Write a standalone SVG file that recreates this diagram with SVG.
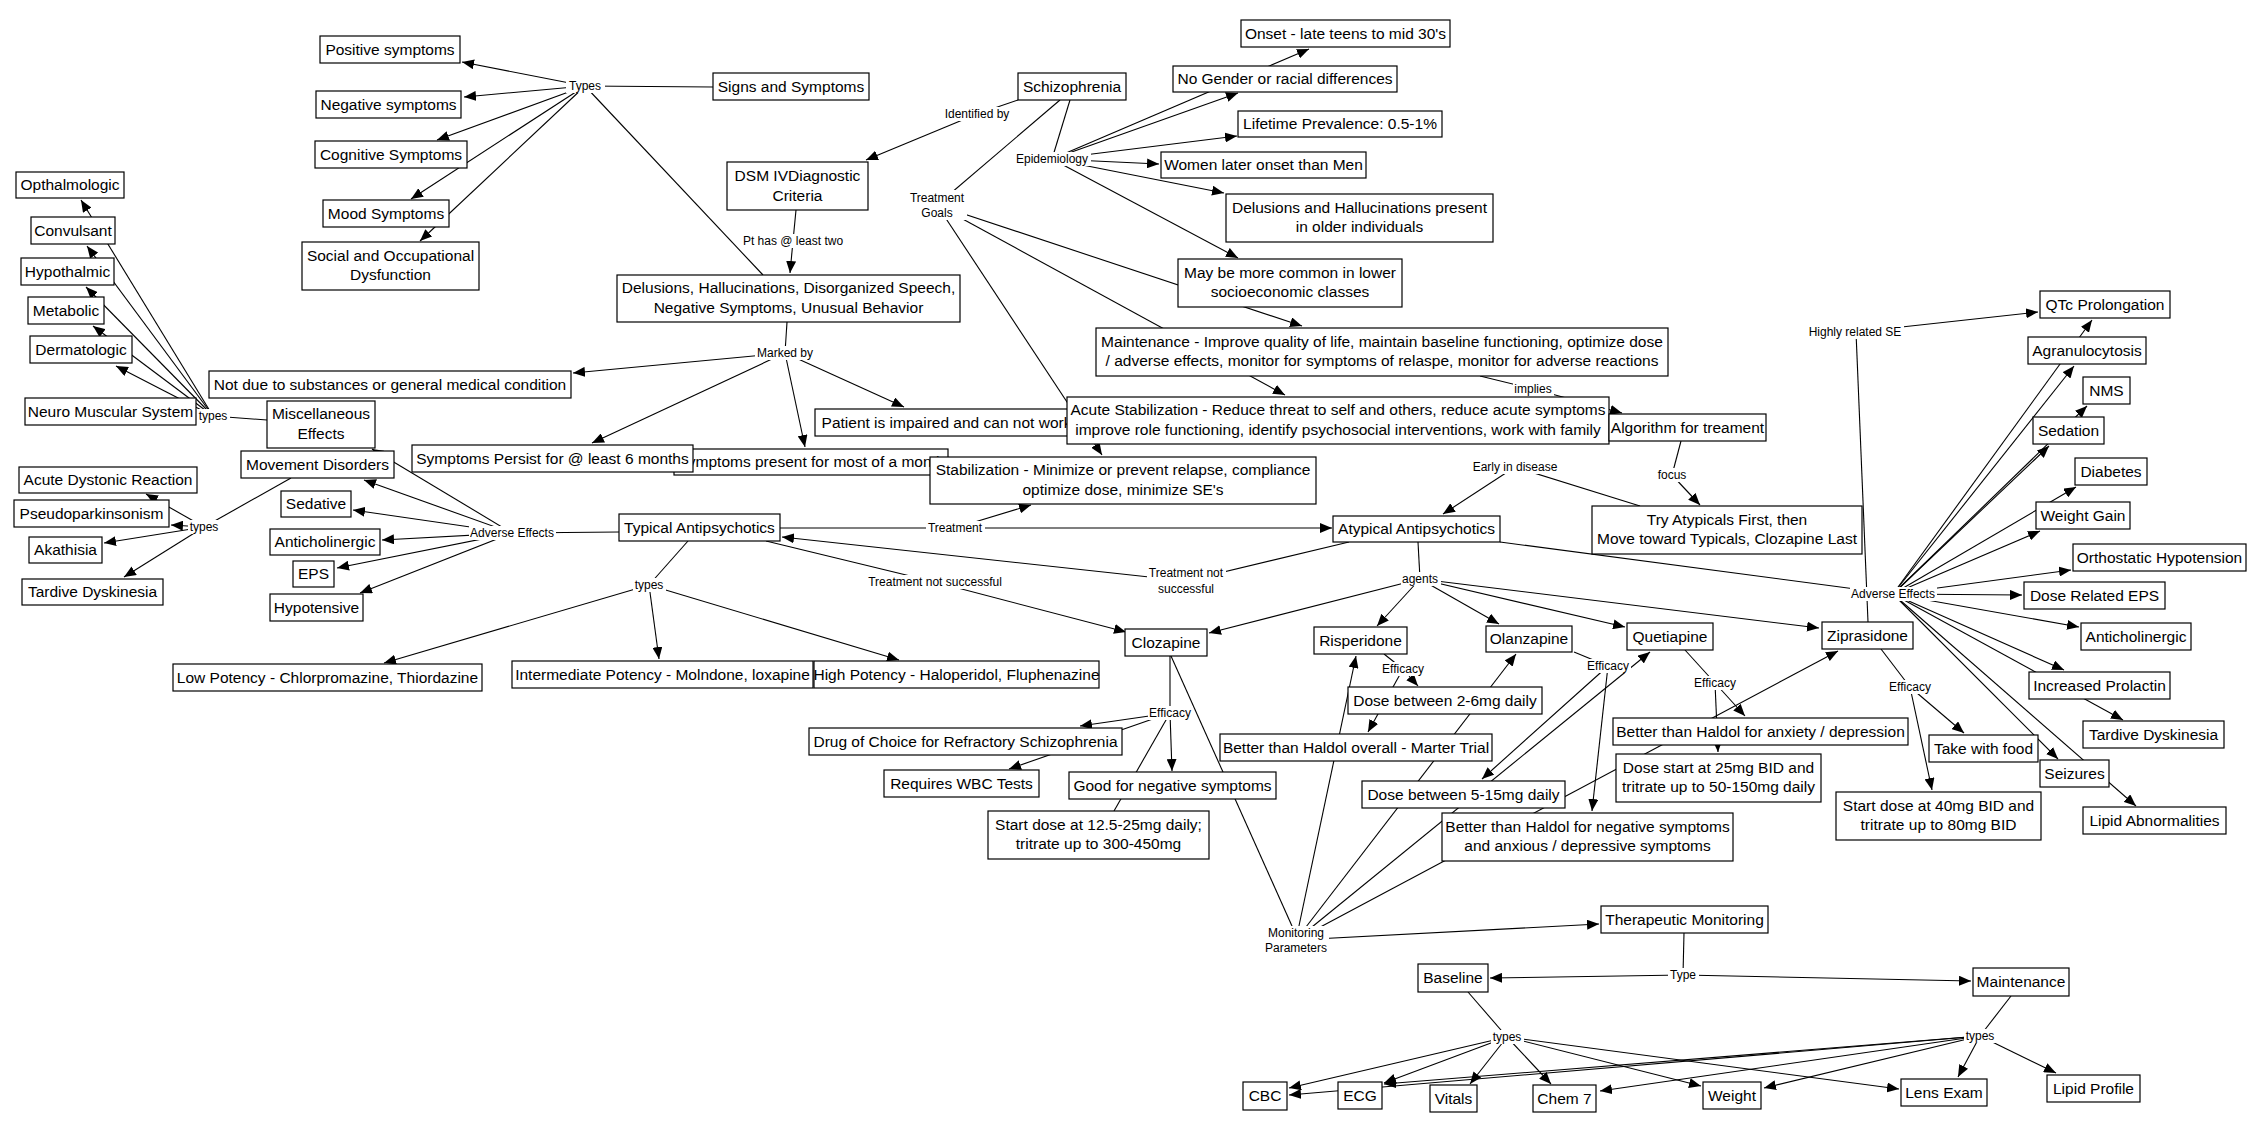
<svg xmlns="http://www.w3.org/2000/svg" width="2259" height="1132" viewBox="0 0 2259 1132">
<style>
.n rect{fill:#fff;stroke:#000;stroke-width:1.2}
.n text{font-family:"Liberation Sans",Arial,sans-serif;font-size:15.5px;text-anchor:middle;fill:#000}
.l rect{fill:#fff;stroke:none}
.l text{font-family:"Liberation Sans",Arial,sans-serif;font-size:12px;text-anchor:middle;fill:#000}
#connectors line{stroke:#000;stroke-width:1.1;fill:none}
#connectors .a{marker-end:url(#ah)}
</style>
<defs>
<marker id="ah" viewBox="0 0 12 10" refX="12" refY="5" markerWidth="12" markerHeight="10" markerUnits="userSpaceOnUse" orient="auto"><path d="M0,0 L12,5 L0,10 z" fill="#000"/></marker>
</defs>
<rect width="2259" height="1132" fill="#fff"/>
<g id="connectors">
<line x1="713" y1="87" x2="585" y2="86"/>
<line x1="585" y1="86" x2="763" y2="275"/>
<line class="a" x1="585" y1="86" x2="462" y2="62"/>
<line class="a" x1="585" y1="86" x2="464" y2="97"/>
<line class="a" x1="585" y1="86" x2="437" y2="140"/>
<line class="a" x1="585" y1="86" x2="411" y2="199"/>
<line class="a" x1="585" y1="86" x2="420" y2="241"/>
<line x1="1018" y1="100" x2="977" y2="114"/>
<line class="a" x1="977" y1="114" x2="866" y2="160"/>
<line x1="796" y1="210" x2="793" y2="241"/>
<line class="a" x1="793" y1="241" x2="790" y2="273"/>
<line x1="787" y1="322" x2="785" y2="353"/>
<line class="a" x1="785" y1="353" x2="573" y2="373"/>
<line class="a" x1="785" y1="353" x2="592" y2="443"/>
<line class="a" x1="785" y1="353" x2="805" y2="447"/>
<line class="a" x1="785" y1="353" x2="904" y2="407"/>
<line x1="1060" y1="100" x2="937" y2="205"/>
<line x1="1070" y1="100" x2="1052" y2="159"/>
<line class="a" x1="1052" y1="159" x2="1309" y2="49"/>
<line class="a" x1="1052" y1="159" x2="1238" y2="93"/>
<line class="a" x1="1052" y1="159" x2="1237" y2="136"/>
<line class="a" x1="1052" y1="159" x2="1159" y2="164"/>
<line class="a" x1="1052" y1="159" x2="1224" y2="193"/>
<line class="a" x1="1052" y1="159" x2="1238" y2="258"/>
<line class="a" x1="937" y1="205" x2="1302" y2="326"/>
<line class="a" x1="937" y1="205" x2="1285" y2="395"/>
<line class="a" x1="937" y1="205" x2="1102" y2="455"/>
<line x1="1480" y1="376" x2="1533" y2="389"/>
<line class="a" x1="1533" y1="389" x2="1622" y2="413"/>
<line x1="1681" y1="441" x2="1672" y2="475"/>
<line class="a" x1="1672" y1="475" x2="1700" y2="505"/>
<line x1="1640" y1="506" x2="1515" y2="467"/>
<line class="a" x1="1515" y1="467" x2="1443" y2="514"/>
<line x1="780" y1="528" x2="955" y2="528"/>
<line class="a" x1="955" y1="528" x2="1332" y2="528"/>
<line class="a" x1="955" y1="528" x2="1031" y2="505"/>
<line x1="766" y1="541" x2="935" y2="582"/>
<line class="a" x1="935" y1="582" x2="1126" y2="632"/>
<line x1="1349" y1="542" x2="1186" y2="581"/>
<line class="a" x1="1186" y1="581" x2="782" y2="537"/>
<line x1="688" y1="541" x2="649" y2="585"/>
<line class="a" x1="649" y1="585" x2="384" y2="663"/>
<line class="a" x1="649" y1="585" x2="659" y2="659"/>
<line class="a" x1="649" y1="585" x2="899" y2="660"/>
<line x1="619" y1="532" x2="512" y2="533"/>
<line class="a" x1="512" y1="533" x2="364" y2="480"/>
<line class="a" x1="512" y1="533" x2="353" y2="510"/>
<line class="a" x1="512" y1="533" x2="382" y2="540"/>
<line class="a" x1="512" y1="533" x2="337" y2="568"/>
<line class="a" x1="512" y1="533" x2="360" y2="593"/>
<line class="a" x1="512" y1="533" x2="372" y2="449"/>
<line x1="267" y1="420" x2="213" y2="416"/>
<line class="a" x1="213" y1="416" x2="81" y2="200"/>
<line class="a" x1="213" y1="416" x2="87" y2="246"/>
<line class="a" x1="213" y1="416" x2="86" y2="287"/>
<line class="a" x1="213" y1="416" x2="93" y2="326"/>
<line class="a" x1="213" y1="416" x2="116" y2="366"/>
<line x1="291" y1="478" x2="204" y2="527"/>
<line class="a" x1="204" y1="527" x2="146" y2="494"/>
<line class="a" x1="204" y1="527" x2="171" y2="525"/>
<line class="a" x1="204" y1="527" x2="104" y2="543"/>
<line class="a" x1="204" y1="527" x2="124" y2="577"/>
<line x1="1418" y1="542" x2="1420" y2="579"/>
<line class="a" x1="1420" y1="579" x2="1209" y2="633"/>
<line class="a" x1="1420" y1="579" x2="1377" y2="626"/>
<line class="a" x1="1420" y1="579" x2="1499" y2="624"/>
<line class="a" x1="1420" y1="579" x2="1625" y2="627"/>
<line class="a" x1="1420" y1="579" x2="1819" y2="628"/>
<line x1="1500" y1="542" x2="1893" y2="594"/>
<line x1="1170" y1="656" x2="1170" y2="713"/>
<line class="a" x1="1170" y1="713" x2="1080" y2="726"/>
<line class="a" x1="1170" y1="713" x2="1172" y2="771"/>
<line x1="1170" y1="713" x2="1114" y2="811"/>
<line class="a" x1="1170" y1="713" x2="1009" y2="769"/>
<line x1="1171" y1="656" x2="1296" y2="935"/>
<line x1="1384" y1="654" x2="1403" y2="669"/>
<line class="a" x1="1403" y1="669" x2="1418" y2="686"/>
<line class="a" x1="1403" y1="669" x2="1368" y2="732"/>
<line x1="1574" y1="652" x2="1608" y2="666"/>
<line class="a" x1="1608" y1="666" x2="1482" y2="779"/>
<line class="a" x1="1608" y1="666" x2="1592" y2="811"/>
<line x1="1685" y1="650" x2="1715" y2="683"/>
<line class="a" x1="1715" y1="683" x2="1745" y2="716"/>
<line class="a" x1="1715" y1="683" x2="1718" y2="752"/>
<line x1="1881" y1="649" x2="1910" y2="687"/>
<line class="a" x1="1910" y1="687" x2="1964" y2="733"/>
<line class="a" x1="1910" y1="687" x2="1932" y2="790"/>
<line x1="1868" y1="622" x2="1856" y2="332"/>
<line class="a" x1="1856" y1="332" x2="2038" y2="312"/>
<line class="a" x1="1893" y1="594" x2="2092" y2="320"/>
<line class="a" x1="1893" y1="594" x2="2074" y2="366"/>
<line class="a" x1="1893" y1="594" x2="2087" y2="406"/>
<line class="a" x1="1893" y1="594" x2="2049" y2="446"/>
<line class="a" x1="1893" y1="594" x2="2076" y2="487"/>
<line class="a" x1="1893" y1="594" x2="2040" y2="531"/>
<line class="a" x1="1893" y1="594" x2="2071" y2="570"/>
<line class="a" x1="1893" y1="594" x2="2022" y2="595"/>
<line class="a" x1="1893" y1="594" x2="2079" y2="627"/>
<line class="a" x1="1893" y1="594" x2="2064" y2="670"/>
<line class="a" x1="1893" y1="594" x2="2123" y2="720"/>
<line class="a" x1="1893" y1="594" x2="2058" y2="759"/>
<line class="a" x1="1893" y1="594" x2="2136" y2="806"/>
<line class="a" x1="1296" y1="940" x2="1356" y2="656"/>
<line class="a" x1="1296" y1="940" x2="1516" y2="654"/>
<line class="a" x1="1296" y1="940" x2="1650" y2="652"/>
<line class="a" x1="1296" y1="940" x2="1838" y2="651"/>
<line class="a" x1="1296" y1="940" x2="1599" y2="924"/>
<line x1="1684" y1="933" x2="1683" y2="975"/>
<line class="a" x1="1683" y1="975" x2="1490" y2="978"/>
<line class="a" x1="1683" y1="975" x2="1971" y2="981"/>
<line x1="1468" y1="992" x2="1507" y2="1037"/>
<line class="a" x1="1507" y1="1037" x2="1289" y2="1088"/>
<line class="a" x1="1507" y1="1037" x2="1384" y2="1083"/>
<line class="a" x1="1507" y1="1037" x2="1470" y2="1084"/>
<line class="a" x1="1507" y1="1037" x2="1551" y2="1084"/>
<line class="a" x1="1507" y1="1037" x2="1701" y2="1086"/>
<line class="a" x1="1507" y1="1037" x2="1899" y2="1089"/>
<line x1="2011" y1="996" x2="1980" y2="1036"/>
<line class="a" x1="1980" y1="1036" x2="1289" y2="1095"/>
<line class="a" x1="1980" y1="1036" x2="1384" y2="1084"/>
<line class="a" x1="1980" y1="1036" x2="1600" y2="1091"/>
<line class="a" x1="1980" y1="1036" x2="1764" y2="1088"/>
<line class="a" x1="1980" y1="1036" x2="1958" y2="1077"/>
<line class="a" x1="1980" y1="1036" x2="2056" y2="1073"/>
</g>
<g id="labels">
<g id="lbl-types1" class="l"><rect x="566" y="79" width="39" height="14"/><text x="585" y="90">Types</text></g>
<g id="lbl-identified" class="l"><rect x="942" y="107" width="71" height="14"/><text x="977" y="118">Identified by</text></g>
<g id="lbl-pthas" class="l"><rect x="740" y="234" width="106" height="14"/><text x="793" y="245">Pt has @ least two</text></g>
<g id="lbl-marked" class="l"><rect x="755" y="346" width="60" height="14"/><text x="785" y="357">Marked by</text></g>
<g id="lbl-goals" class="l"><rect x="907" y="190" width="60" height="30"/><text x="937" y="202">Treatment</text><text x="937" y="217">Goals</text></g>
<g id="lbl-epid" class="l"><rect x="1014" y="152" width="77" height="14"/><text x="1052" y="163">Epidemiology</text></g>
<g id="lbl-highly" class="l"><rect x="1807" y="325" width="97" height="14"/><text x="1855" y="336">Highly related SE</text></g>
<g id="lbl-implies" class="l"><rect x="1513" y="382" width="41" height="14"/><text x="1533" y="393">implies</text></g>
<g id="lbl-focus" class="l"><rect x="1656" y="468" width="33" height="14"/><text x="1672" y="479">focus</text></g>
<g id="lbl-early" class="l"><rect x="1471" y="460" width="89" height="14"/><text x="1515" y="471">Early in disease</text></g>
<g id="lbl-treatment" class="l"><rect x="926" y="521" width="59" height="14"/><text x="955" y="532">Treatment</text></g>
<g id="lbl-tns1" class="l"><rect x="866" y="575" width="138" height="14"/><text x="935" y="586">Treatment not successful</text></g>
<g id="lbl-tns2" class="l"><rect x="1147" y="565" width="79" height="31"/><text x="1186" y="577">Treatment not</text><text x="1186" y="593">successful</text></g>
<g id="lbl-types-typ" class="l"><rect x="633" y="578" width="33" height="14"/><text x="649" y="589">types</text></g>
<g id="lbl-ae1" class="l"><rect x="469" y="526" width="87" height="14"/><text x="512" y="537">Adverse Effects</text></g>
<g id="lbl-types-misc" class="l"><rect x="197" y="409" width="33" height="14"/><text x="213" y="420">types</text></g>
<g id="lbl-types-mov" class="l"><rect x="188" y="520" width="33" height="14"/><text x="204" y="531">types</text></g>
<g id="lbl-agents" class="l"><rect x="1401" y="572" width="40" height="14"/><text x="1420" y="583">agents</text></g>
<g id="lbl-eff-cloz" class="l"><rect x="1148" y="706" width="45" height="14"/><text x="1170" y="717">Efficacy</text></g>
<g id="lbl-eff-risp" class="l"><rect x="1381" y="662" width="45" height="14"/><text x="1403" y="673">Efficacy</text></g>
<g id="lbl-eff-olan" class="l"><rect x="1586" y="659" width="45" height="14"/><text x="1608" y="670">Efficacy</text></g>
<g id="lbl-eff-quet" class="l"><rect x="1693" y="676" width="45" height="14"/><text x="1715" y="687">Efficacy</text></g>
<g id="lbl-eff-zip" class="l"><rect x="1888" y="680" width="45" height="14"/><text x="1910" y="691">Efficacy</text></g>
<g id="lbl-ae2" class="l"><rect x="1850" y="587" width="87" height="14"/><text x="1893" y="598">Adverse Effects</text></g>
<g id="lbl-monitoring" class="l"><rect x="1263" y="926" width="66" height="30"/><text x="1296" y="937">Monitoring</text><text x="1296" y="952">Parameters</text></g>
<g id="lbl-type" class="l"><rect x="1668" y="968" width="31" height="14"/><text x="1683" y="979">Type</text></g>
<g id="lbl-types-base" class="l"><rect x="1491" y="1030" width="33" height="14"/><text x="1507" y="1041">types</text></g>
<g id="lbl-types-maint" class="l"><rect x="1964" y="1029" width="33" height="14"/><text x="1980" y="1040">types</text></g>
</g>
<g id="nodes">
<g id="n-pos" class="n"><rect x="320" y="36" width="140" height="27"/><text x="390" y="54.5">Positive symptoms</text></g>
<g id="n-neg" class="n"><rect x="316" y="91" width="145" height="27"/><text x="388.5" y="109.5">Negative symptoms</text></g>
<g id="n-cog" class="n"><rect x="315" y="141" width="152" height="27"/><text x="391" y="159.5">Cognitive Symptoms</text></g>
<g id="n-mood" class="n"><rect x="323" y="200" width="126" height="27"/><text x="386" y="218.5">Mood Symptoms</text></g>
<g id="n-social" class="n"><rect x="302" y="242" width="177" height="48"/><text x="390.5" y="260.5">Social and Occupational</text><text x="390.5" y="280">Dysfunction</text></g>
<g id="n-opth" class="n"><rect x="16" y="172" width="108" height="26"/><text x="70" y="190">Opthalmologic</text></g>
<g id="n-conv" class="n"><rect x="31" y="217" width="84" height="27"/><text x="73" y="235.5">Convulsant</text></g>
<g id="n-hypo" class="n"><rect x="21" y="258" width="93" height="27"/><text x="67.5" y="276.5">Hypothalmic</text></g>
<g id="n-metab" class="n"><rect x="28" y="297" width="76" height="27"/><text x="66" y="315.5">Metabolic</text></g>
<g id="n-derm" class="n"><rect x="30" y="336" width="102" height="27"/><text x="81" y="354.5">Dermatologic</text></g>
<g id="n-neuro" class="n"><rect x="25" y="398" width="171" height="27"/><text x="110.5" y="416.5">Neuro Muscular System</text></g>
<g id="n-misc" class="n"><rect x="267" y="401" width="108" height="47"/><text x="321" y="419">Miscellaneous</text><text x="321" y="438.5">Effects</text></g>
<g id="n-notdue" class="n"><rect x="209" y="371" width="362" height="27"/><text x="390" y="389.5">Not due to substances or general medical condition</text></g>
<g id="n-movement" class="n"><rect x="241" y="451" width="153" height="27"/><text x="317.5" y="469.5">Movement Disorders</text></g>
<g id="n-acutedys" class="n"><rect x="19" y="467" width="178" height="26"/><text x="108" y="485">Acute Dystonic Reaction</text></g>
<g id="n-pseudo" class="n"><rect x="14" y="500" width="155" height="27"/><text x="91.5" y="518.5">Pseudoparkinsonism</text></g>
<g id="n-akath" class="n"><rect x="29" y="537" width="73" height="26"/><text x="65.5" y="555">Akathisia</text></g>
<g id="n-tardive1" class="n"><rect x="22" y="579" width="141" height="26"/><text x="92.5" y="597">Tardive Dyskinesia</text></g>
<g id="n-sedative" class="n"><rect x="281" y="491" width="70" height="26"/><text x="316" y="509">Sedative</text></g>
<g id="n-antichol1" class="n"><rect x="270" y="529" width="110" height="26"/><text x="325" y="547">Anticholinergic</text></g>
<g id="n-eps" class="n"><rect x="293" y="561" width="41" height="26"/><text x="313.5" y="579">EPS</text></g>
<g id="n-hypotensive" class="n"><rect x="270" y="594" width="93" height="27"/><text x="316.5" y="612.5">Hypotensive</text></g>
<g id="n-signs" class="n"><rect x="713" y="73" width="156" height="27"/><text x="791" y="91.5">Signs and Symptoms</text></g>
<g id="n-dsm" class="n"><rect x="727" y="162" width="141" height="48"/><text x="797.5" y="181">DSM IVDiagnostic</text><text x="797.5" y="200.5">Criteria</text></g>
<g id="n-delusions" class="n"><rect x="617" y="275" width="343" height="47"/><text x="788.5" y="293">Delusions, Hallucinations, Disorganized Speech,</text><text x="788.5" y="312.5">Negative Symptoms, Unusual Behavior</text></g>
<g id="n-schizo" class="n"><rect x="1018" y="73" width="108" height="27"/><text x="1072" y="91.5">Schizophrenia</text></g>
<g id="n-onset" class="n"><rect x="1241" y="20" width="209" height="27"/><text x="1345.5" y="38.5">Onset - late teens to mid 30's</text></g>
<g id="n-nogender" class="n"><rect x="1173" y="66" width="224" height="26"/><text x="1285" y="84">No Gender or racial differences</text></g>
<g id="n-lifetime" class="n"><rect x="1238" y="111" width="204" height="26"/><text x="1340" y="129">Lifetime Prevalence: 0.5-1%</text></g>
<g id="n-women" class="n"><rect x="1161" y="152" width="205" height="26"/><text x="1263.5" y="170">Women later onset than Men</text></g>
<g id="n-delusold" class="n"><rect x="1226" y="194" width="267" height="48"/><text x="1359.5" y="212.5">Delusions and Hallucinations present</text><text x="1359.5" y="232">in older individuals</text></g>
<g id="n-maybe" class="n"><rect x="1178" y="259" width="224" height="48"/><text x="1290" y="277.5">May be more common in lower</text><text x="1290" y="297">socioeconomic classes</text></g>
<g id="n-maintenance" class="n"><rect x="1096" y="328" width="572" height="48"/><text x="1382" y="346.5">Maintenance - Improve quality of life, maintain baseline functioning, optimize dose</text><text x="1382" y="366">/ adverse effects, monitor for symptoms of relaspe, monitor for adverse reactions</text></g>
<g id="n-symppresent" class="n"><rect x="674" y="449" width="274" height="26"/><text x="811" y="467">Symptoms present for most of a month</text></g>
<g id="n-symppersist" class="n"><rect x="412" y="445" width="281" height="27"/><text x="552.5" y="463.5">Symptoms Persist for @ least 6 months</text></g>
<g id="n-patient" class="n"><rect x="815" y="409" width="263" height="27"/><text x="946.5" y="427.5">Patient is impaired and can not work</text></g>
<g id="n-stabilization" class="n"><rect x="930" y="457" width="386" height="47"/><text x="1123" y="475">Stabilization - Minimize or prevent relapse, compliance</text><text x="1123" y="494.5">optimize dose, minimize SE's</text></g>
<g id="n-acutestab" class="n"><rect x="1067" y="397" width="542" height="47"/><text x="1338" y="415">Acute Stabilization - Reduce threat to self and others, reduce acute symptoms</text><text x="1338" y="434.5">improve role functioning, identify psychosocial interventions, work with family</text></g>
<g id="n-algorithm" class="n"><rect x="1609" y="414" width="157" height="27"/><text x="1687.5" y="432.5">Algorithm for treament</text></g>
<g id="n-tryatyp" class="n"><rect x="1592" y="506" width="270" height="48"/><text x="1727" y="524.5">Try Atypicals First, then</text><text x="1727" y="544">Move toward Typicals, Clozapine Last</text></g>
<g id="n-typical" class="n"><rect x="619" y="514" width="161" height="27"/><text x="699.5" y="532.5">Typical Antipsychotics</text></g>
<g id="n-atypical" class="n"><rect x="1333" y="516" width="167" height="26"/><text x="1416.5" y="534">Atypical Antipsychotics</text></g>
<g id="n-low" class="n"><rect x="173" y="664" width="309" height="27"/><text x="327.5" y="682.5">Low Potency - Chlorpromazine, Thiordazine</text></g>
<g id="n-high" class="n"><rect x="814" y="661" width="285" height="27"/><text x="956.5" y="679.5">High Potency - Haloperidol, Fluphenazine</text></g>
<g id="n-intermediate" class="n"><rect x="512" y="661" width="301" height="27"/><text x="662.5" y="679.5">Intermediate Potency - Molndone, loxapine</text></g>
<g id="n-clozapine" class="n"><rect x="1125" y="629" width="82" height="27"/><text x="1166" y="647.5">Clozapine</text></g>
<g id="n-risperidone" class="n"><rect x="1314" y="627" width="93" height="27"/><text x="1360.5" y="645.5">Risperidone</text></g>
<g id="n-olanzapine" class="n"><rect x="1486" y="626" width="86" height="26"/><text x="1529" y="644">Olanzapine</text></g>
<g id="n-quetiapine" class="n"><rect x="1627" y="623" width="86" height="27"/><text x="1670" y="641.5">Quetiapine</text></g>
<g id="n-ziprasidone" class="n"><rect x="1822" y="622" width="91" height="27"/><text x="1867.5" y="640.5">Ziprasidone</text></g>
<g id="n-drug" class="n"><rect x="809" y="728" width="313" height="27"/><text x="965.5" y="746.5">Drug of Choice for Refractory Schizophrenia</text></g>
<g id="n-wbc" class="n"><rect x="884" y="770" width="155" height="27"/><text x="961.5" y="788.5">Requires WBC Tests</text></g>
<g id="n-goodneg" class="n"><rect x="1069" y="772" width="207" height="27"/><text x="1172.5" y="790.5">Good for negative symptoms</text></g>
<g id="n-startcloz" class="n"><rect x="988" y="811" width="221" height="48"/><text x="1098.5" y="829.5">Start dose at 12.5-25mg daily;</text><text x="1098.5" y="849">tritrate up to 300-450mg</text></g>
<g id="n-dose26" class="n"><rect x="1348" y="687" width="194" height="27"/><text x="1445" y="705.5">Dose between 2-6mg daily</text></g>
<g id="n-betteroverall" class="n"><rect x="1220" y="734" width="272" height="27"/><text x="1356" y="752.5">Better than Haldol overall - Marter Trial</text></g>
<g id="n-dose515" class="n"><rect x="1362" y="781" width="203" height="27"/><text x="1463.5" y="799.5">Dose between 5-15mg daily</text></g>
<g id="n-betterneg" class="n"><rect x="1442" y="813" width="291" height="48"/><text x="1587.5" y="831.5">Better than Haldol for negative symptoms</text><text x="1587.5" y="851">and anxious / depressive symptoms</text></g>
<g id="n-betteranx" class="n"><rect x="1613" y="718" width="295" height="27"/><text x="1760.5" y="736.5">Better than Haldol for anxiety / depression</text></g>
<g id="n-dose25" class="n"><rect x="1616" y="754" width="205" height="48"/><text x="1718.5" y="772.5">Dose start at 25mg BID and</text><text x="1718.5" y="792">tritrate up to 50-150mg daily</text></g>
<g id="n-takefood" class="n"><rect x="1929" y="735" width="109" height="27"/><text x="1983.5" y="753.5">Take with food</text></g>
<g id="n-start40" class="n"><rect x="1836" y="792" width="205" height="48"/><text x="1938.5" y="810.5">Start dose at 40mg BID and</text><text x="1938.5" y="830">tritrate up to 80mg BID</text></g>
<g id="n-qtc" class="n"><rect x="2040" y="291" width="130" height="27"/><text x="2105" y="309.5">QTc Prolongation</text></g>
<g id="n-agran" class="n"><rect x="2028" y="337" width="118" height="27"/><text x="2087" y="355.5">Agranulocytosis</text></g>
<g id="n-nms" class="n"><rect x="2083" y="377" width="47" height="27"/><text x="2106.5" y="395.5">NMS</text></g>
<g id="n-sedation" class="n"><rect x="2033" y="417" width="71" height="27"/><text x="2068.5" y="435.5">Sedation</text></g>
<g id="n-diabetes" class="n"><rect x="2075" y="458" width="72" height="27"/><text x="2111" y="476.5">Diabetes</text></g>
<g id="n-weightgain" class="n"><rect x="2036" y="502" width="94" height="27"/><text x="2083" y="520.5">Weight Gain</text></g>
<g id="n-ortho" class="n"><rect x="2073" y="544" width="173" height="27"/><text x="2159.5" y="562.5">Orthostatic Hypotension</text></g>
<g id="n-doseeps" class="n"><rect x="2024" y="582" width="141" height="27"/><text x="2094.5" y="600.5">Dose Related EPS</text></g>
<g id="n-antichol2" class="n"><rect x="2081" y="623" width="110" height="27"/><text x="2136" y="641.5">Anticholinergic</text></g>
<g id="n-prolactin" class="n"><rect x="2029" y="672" width="141" height="27"/><text x="2099.5" y="690.5">Increased Prolactin</text></g>
<g id="n-tardive2" class="n"><rect x="2083" y="721" width="141" height="27"/><text x="2153.5" y="739.5">Tardive Dyskinesia</text></g>
<g id="n-seizures" class="n"><rect x="2040" y="760" width="69" height="27"/><text x="2074.5" y="778.5">Seizures</text></g>
<g id="n-lipidab" class="n"><rect x="2083" y="807" width="143" height="27"/><text x="2154.5" y="825.5">Lipid Abnormalities</text></g>
<g id="n-thermon" class="n"><rect x="1601" y="906" width="167" height="27"/><text x="1684.5" y="924.5">Therapeutic Monitoring</text></g>
<g id="n-baseline" class="n"><rect x="1418" y="964" width="70" height="28"/><text x="1453" y="983">Baseline</text></g>
<g id="n-maint2" class="n"><rect x="1973" y="968" width="96" height="28"/><text x="2021" y="987">Maintenance</text></g>
<g id="n-cbc" class="n"><rect x="1243" y="1082" width="44" height="28"/><text x="1265" y="1101">CBC</text></g>
<g id="n-ecg" class="n"><rect x="1338" y="1082" width="44" height="27"/><text x="1360" y="1100.5">ECG</text></g>
<g id="n-vitals" class="n"><rect x="1430" y="1085" width="47" height="27"/><text x="1453.5" y="1103.5">Vitals</text></g>
<g id="n-chem7" class="n"><rect x="1533" y="1085" width="63" height="27"/><text x="1564.5" y="1103.5">Chem 7</text></g>
<g id="n-weight" class="n"><rect x="1703" y="1082" width="58" height="27"/><text x="1732" y="1100.5">Weight</text></g>
<g id="n-lens" class="n"><rect x="1901" y="1079" width="86" height="27"/><text x="1944" y="1097.5">Lens Exam</text></g>
<g id="n-lipidprof" class="n"><rect x="2047" y="1075" width="93" height="27"/><text x="2093.5" y="1093.5">Lipid Profile</text></g>
</g>
</svg>
